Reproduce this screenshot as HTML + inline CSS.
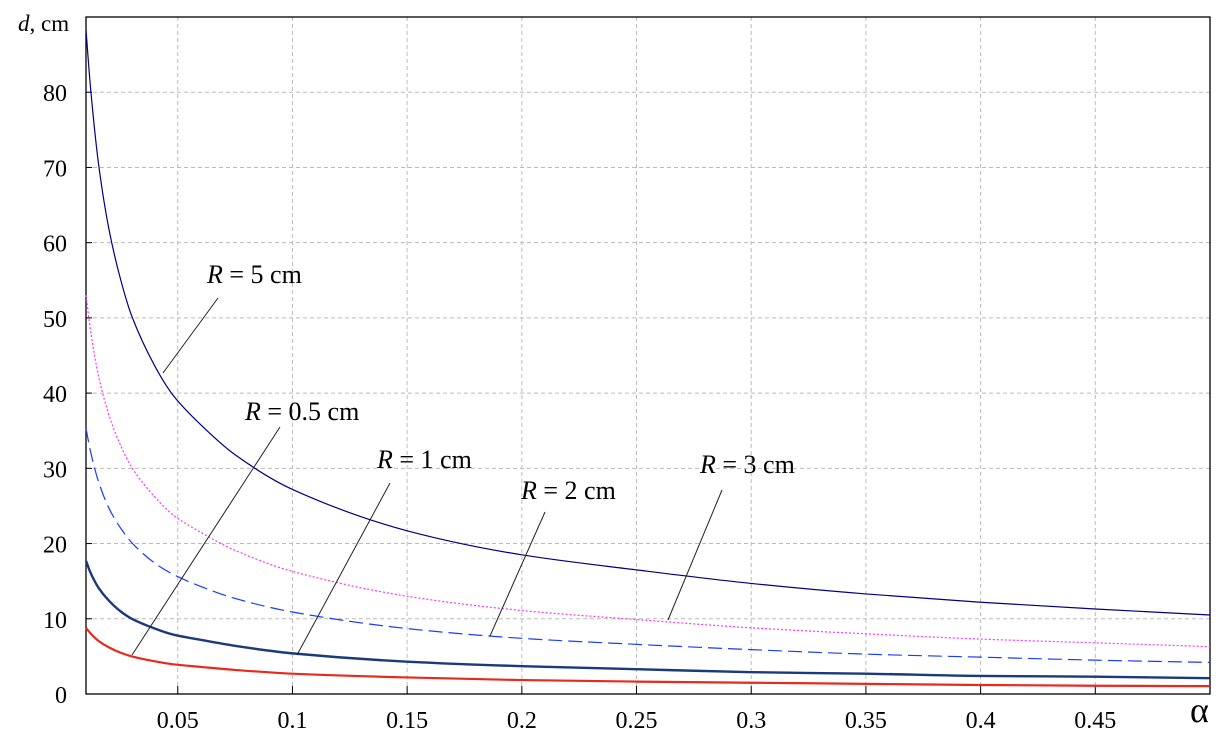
<!DOCTYPE html>
<html><head><meta charset="utf-8"><style>
body{margin:0;background:#fff}
svg{display:block;font-family:"Liberation Serif",serif}
</style></head><body>
<svg id="chart" width="1225" height="743">
<g id="grid"></g>
<g id="axes"></g>
<g id="series"></g>
<g id="annot"></g>
<text x="18" y="31" font-size="23"><tspan font-style="italic">d</tspan>, cm</text>
<text x="1190" y="722" font-size="36">α</text>
</svg>
<script>
const alphas=[0.01,0.012,0.0155,0.02,0.025,0.03,0.04,0.048,0.06,0.075,0.1,0.15,0.2,0.25,0.3,0.35,0.4,0.45,0.5];
const dR5=[88.3,80.5,70.4,61.8,55.2,50.2,43.6,39.7,35.8,31.8,27.2,21.7,18.5,16.5,14.7,13.3,12.2,11.3,10.5];
const dR3=[53,48.3,42.2,37.1,33.1,30.1,26.2,23.8,21.5,19.1,16.3,13.0,11.1,9.9,8.8,8,7.3,6.8,6.3];
const dR2=[35.3,32.2,28.2,24.7,22.1,20.1,17.4,15.9,14.3,12.7,10.9,8.7,7.4,6.6,5.9,5.3,4.9,4.5,4.2];
const dR1=[17.7,16.1,14.1,12.4,11.0,10,8.7,7.9,7.2,6.4,5.4,4.3,3.7,3.3,2.9,2.7,2.4,2.3,2.1];
const dR05=[8.8,8.05,7.05,6.2,5.5,5,4.35,3.95,3.6,3.2,2.7,2.2,1.85,1.65,1.5,1.35,1.2,1.1,1.05];
const xTicks=[0.05,0.1,0.15,0.2,0.25,0.3,0.35,0.4,0.45];
const xTickLabels=["0.05","0.1","0.15","0.2","0.25","0.3","0.35","0.4","0.45"];
const yTicks=[0,10,20,30,40,50,60,70,80];
const yTickLabels=["0","10","20","30","40","50","60","70","80"];
const L=86,R=1210,T=17,B=694,X0=0.01,X1=0.5,Y0=0,Y1=90;
const sx=v=>L+(v-X0)/(X1-X0)*(R-L), sy=v=>B-(v-Y0)/(Y1-Y0)*(B-T);
const NS="http://www.w3.org/2000/svg";
function mk(t,a,p){const e=document.createElementNS(NS,t);for(const k in a)e.setAttribute(k,a[k]);p.appendChild(e);return e;}
const grid=document.getElementById('grid'),axes=document.getElementById('axes'),ser=document.getElementById('series'),ann=document.getElementById('annot');
xTicks.forEach((v,i)=>{
 const g=mk('line',{x1:sx(v),x2:sx(v),y1:T,y2:B,stroke:'#bbb','stroke-dasharray':'4,3'},grid);
 
 
 const tk=mk('line',{x1:sx(v),x2:sx(v),y1:B,y2:B-8,stroke:'#000'},axes);
 
 
 const t=mk('text',{x:sx(v),y:B+34,'font-size':24,'text-anchor':'middle'},axes);t.textContent=xTickLabels[i];
 
 
});
yTicks.forEach((v,i)=>{
 if(v>0){const g=mk('line',{x1:L,x2:R,y1:sy(v),y2:sy(v),stroke:'#bbb','stroke-dasharray':'4,3'},grid);
 
 }
 const tk=mk('line',{x1:L,x2:L+6,y1:sy(v),y2:sy(v),stroke:'#000'},axes);
 
 
 const t=mk('text',{x:67,y:sy(v)+9,'font-size':24,'text-anchor':'end'},axes);t.textContent=yTickLabels[i];
 
 
});
const fr=mk('rect',{x:L,y:T,width:R-L,height:B-T,fill:'none',stroke:'#000','stroke-width':1.3},axes);


function path(vals){
 const n=alphas.length,xs=alphas.map(sx),ys=vals.map(sy);
 const dl=[],m=new Array(n);
 for(let i=0;i<n-1;i++)dl.push((ys[i+1]-ys[i])/(xs[i+1]-xs[i]));
 m[0]=dl[0];m[n-1]=dl[n-2];
 for(let i=1;i<n-1;i++)m[i]=(dl[i-1]*dl[i]<=0)?0:2/(1/dl[i-1]+1/dl[i]);
 let d=`M${xs[0]},${ys[0]}`;
 for(let i=0;i<n-1;i++){const h=(xs[i+1]-xs[i])/3;
  d+=`C${xs[i]+h},${ys[i]+m[i]*h} ${xs[i+1]-h},${ys[i+1]-m[i+1]*h} ${xs[i+1]},${ys[i+1]}`;}
 return d;
}
const specs=[[dR5,'#000080',1.2,'','series-r5'],[dR3,'#ff33ff',1.2,'2,2','series-r3'],[dR2,'#1a3cff',1.2,'14,6','series-r2'],[dR1,'#1a3a7a',2.4,'','series-r1'],[dR05,'#e8291c',2.2,'','series-r05']];
specs.forEach(s=>{
 const e=mk('path',{d:path(s[0]),fill:'none',stroke:s[1],'stroke-width':s[2],'stroke-dasharray':s[3]},ser);
 
 
});
const labels=[["5",207,283,218,298,163,373,'label-r5'],["0.5",245,420,280,427,132,655,'label-r05'],["1",377,468,390,483,297,655,'label-r1'],["2",521,499,545,512,490,636,'label-r2'],["3",700,473,722,490,668,620,'label-r3']];
labels.forEach(l=>{
 const t=mk('text',{x:l[1],y:l[2],'font-size':26},ann);
 t.innerHTML=`<tspan font-style="italic">R</tspan> = ${l[0]} cm`;
 
 
 const ln=mk('line',{x1:l[3],y1:l[4],x2:l[5],y2:l[6],stroke:'#222','stroke-width':1},ann);
 
 
});
</script>
</body></html>
